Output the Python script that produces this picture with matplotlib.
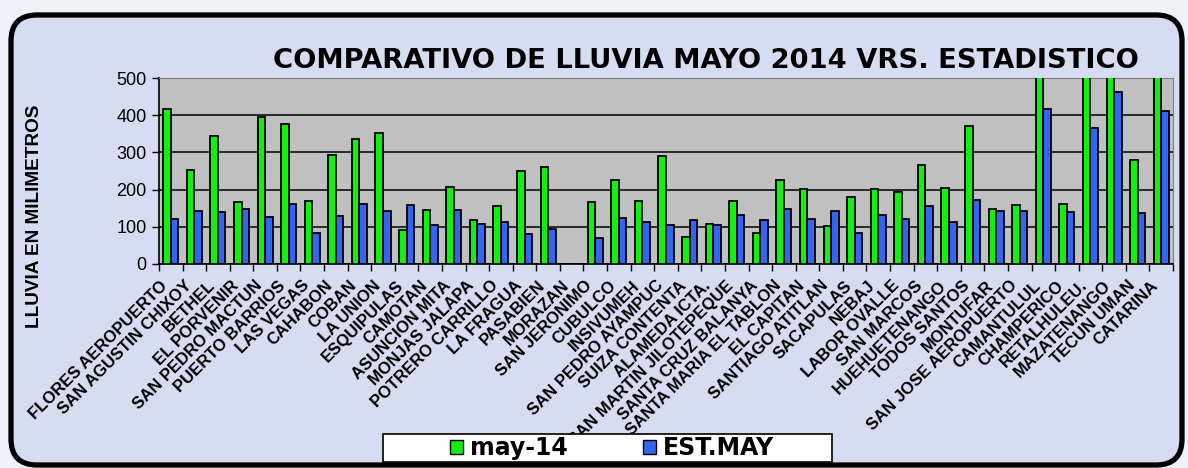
import numpy as np
import matplotlib
matplotlib.use('Agg')
import matplotlib.pyplot as plt
from matplotlib.patches import FancyBboxPatch, Rectangle, Patch
from matplotlib.transforms import IdentityTransform
from matplotlib.ticker import FixedLocator


# =============================================================================
# Data
# =============================================================================

stations = [
    'FLORES AEROPUERTO', 'SAN AGUSTIN CHIXOY', 'BETHEL', 'EL PORVENIR',
    'SAN PEDRO MACTUN', 'PUERTO BARRIOS', 'LAS VEGAS', 'CAHABON', 'COBAN',
    'LA UNION', 'ESQUIPULAS', 'CAMOTAN', 'ASUNCION MITA', 'MONJAS JALAPA',
    'POTRERO CARRILLO', 'LA FRAGUA', 'PASABIEN', 'MORAZAN', 'SAN JERONIMO',
    'CUBULCO', 'INSIVUMEH', 'SAN PEDRO AYAMPUC', 'SUIZA CONTENTA',
    'ALAMEDA ICTA.', 'SAN MARTIN JILOTEPEQUE', 'SANTA CRUZ BALANYA',
    'SANTA MARIA EL TABLON', 'EL CAPITAN', 'SANTIAGO ATITLAN', 'SACAPULAS',
    'NEBAJ', 'LABOR OVALLE', 'SAN MARCOS', 'HUEHUETENANGO', 'TODOS SANTOS',
    'MONTUFAR', 'SAN JOSE AEROPUERTO', 'CAMANTULUL', 'CHAMPERICO',
    'RETALHULEU.', 'MAZATENANGO', 'TECUN UMAN', 'CATARINA',
]

may_14 = [
    417, 253, 345, 166, 394, 377, 169, 294, 335, 352, 91, 145, 207, 117,
    156, 249, 262, 0, 166, 225, 170, 290, 73, 107, 169, 84, 225, 201, 101,
    180, 201, 193, 265, 204, 372, 148, 158, 620, 162, 650, 700, 279, 610,
]

est_may = [
    121, 143, 139, 149, 126, 162, 84, 129, 162, 143, 159, 104, 146, 108,
    112, 80, 94, 0, 70, 125, 112, 105, 118, 104, 131, 118, 149, 121, 142,
    84, 131, 121, 156, 114, 173, 142, 142, 417, 139, 366, 462, 138, 411,
]

series_labels = ['may-14', 'EST.MAY']

# =============================================================================
# Figure
# =============================================================================

W, H = 1188, 468
GREEN = '#11f011'
BLUE = '#3366f0'
PANEL = '#d6ddf2'


def fx(px):
    return px / W


def fy(py):
    return 1 - py / H


fig = plt.figure(figsize=(W / 100, H / 100), dpi=100, facecolor='#eef2f8')

# --- rounded frame around the whole chart (drawn behind everything) ---
frame = FancyBboxPatch((11, 3), 1171, 450,
                       boxstyle='round,pad=0,rounding_size=26',
                       transform=IdentityTransform(),
                       facecolor=PANEL, edgecolor='black', linewidth=3.8,
                       zorder=-5)
fig.add_artist(frame)

# --- plot area ---
left, right, top, bottom = 159, 1173, 78, 264
ax = fig.add_axes([fx(left), fy(bottom), fx(right - left), (bottom - top) / H])
ax.set_facecolor('#c0c0c0')

x = np.arange(len(stations))
bw = 0.32
ax.bar(x - bw / 2, may_14, width=bw, color=GREEN, edgecolor='black',
       linewidth=1.3, zorder=3)
ax.bar(x + bw / 2, est_may, width=bw, color=BLUE, edgecolor='black',
       linewidth=1.3, zorder=3)

ax.set_xlim(-0.5, len(stations) - 0.5)
ax.set_ylim(0, 500)
ax.set_yticks([0, 100, 200, 300, 400, 500])
ax.yaxis.grid(True, color='black', linewidth=1.1, zorder=1)
ax.set_axisbelow(True)

ax.set_xticks(x)
ax.set_xticklabels(stations, rotation=45, ha='right', va='top',
                   fontsize=12, fontweight='bold', family='Liberation Sans')
ax.xaxis.set_minor_locator(FixedLocator(np.arange(len(stations) + 1) - 0.5))
ax.tick_params(axis='x', which='major', length=0, pad=10)
ax.tick_params(axis='x', which='minor', length=5, width=1, color='black')
ax.tick_params(axis='y', length=5, width=1, color='black', pad=4,
               labelsize=13)
for lab in ax.get_yticklabels():
    lab.set_family('Liberation Sans')

for side in ('top', 'right'):
    ax.spines[side].set_color('#808080')
for side in ('left', 'bottom'):
    ax.spines[side].set_color('black')
    ax.spines[side].set_linewidth(1.2)

# --- texts ---
fig.text(fx(706), fy(61), 'COMPARATIVO DE LLUVIA MAYO 2014 VRS. ESTADISTICO',
         ha='center', va='center', fontsize=19.7, fontweight='bold',
         family='DejaVu Sans')
fig.text(fx(35), fy(216), 'LLUVIA EN MILIMETROS', rotation=90,
         ha='center', va='center', fontsize=13.7, fontweight='bold',
         family='Liberation Sans')

# --- legend ---
legend_box = Rectangle((383, H - 462), 449, 28, transform=IdentityTransform(),
                       facecolor='white', edgecolor='black', linewidth=1.2,
                       zorder=2)
fig.add_artist(legend_box)
handles = [Patch(facecolor=GREEN, edgecolor='black', linewidth=1.0),
           Patch(facecolor=BLUE, edgecolor='black', linewidth=1.0)]
leg = fig.legend(handles, series_labels, ncol=2, frameon=False,
                 loc='center', bbox_to_anchor=(fx(612), fy(448)),
                 prop={'family': 'DejaVu Sans', 'weight': 'bold', 'size': 17},
                 handlelength=0.55, handleheight=0.55, handletextpad=0.3,
                 columnspacing=3.2, borderpad=0)
leg.set_zorder(3)

fig.savefig('out.png', dpi=100, facecolor=fig.get_facecolor())
